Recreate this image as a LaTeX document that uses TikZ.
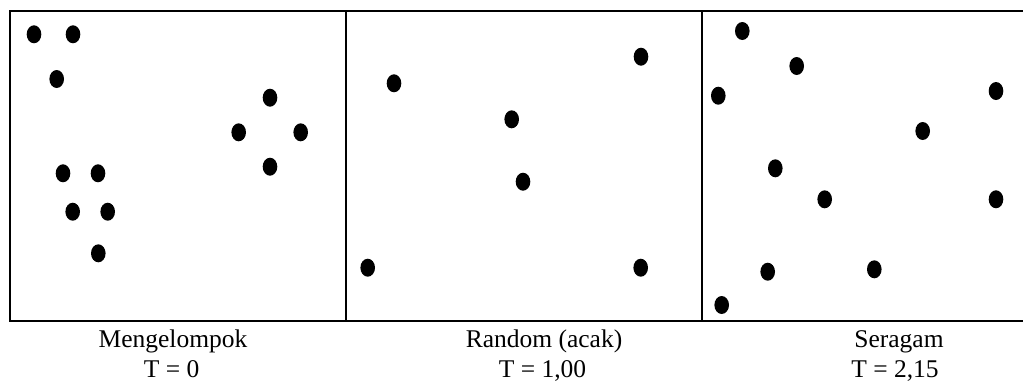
\documentclass[tikz,border=0pt]{standalone}
\usepackage{fontspec}
\setmainfont{Liberation Serif}

\begin{document}
\begin{tikzpicture}[
    x=1pt, y=-1pt,
    frame/.style={line width=1.8pt, black},
    dot/.style={fill=black},
    lbl/.style={anchor=base, inner sep=0pt, font=\fontsize{25.5}{30}\selectfont}
]
\useasboundingbox (0,0) rectangle (1023,381);

% frame and dividers
\draw[frame] (1023,11) -- (10,11) -- (10,321) -- (1023,321);
\draw[frame] (345.7,11) -- (345.7,321);
\draw[frame] (701.7,11) -- (701.7,321);

% mengelompok
\foreach \px/\py in {34/34.3, 73/34.3, 56.7/79, 270/97.7, 238.7/132.3, 300.7/132.3,
                     270/166.7, 63/173.3, 98/173.3, 72.7/211.7, 107.7/211.7, 98.3/253.3}
  \fill[dot] (\px,\py) ellipse [x radius=7.3, y radius=9];

% random
\foreach \px/\py in {641/56.7, 394/83.3, 511.7/119.3, 523/181.7, 367.7/267.7, 640.7/267.7}
  \fill[dot] (\px,\py) ellipse [x radius=7.3, y radius=9];

% seragam
\foreach \px/\py in {742.3/31, 796.7/66, 718.3/95.7, 996/91, 922.7/131, 775.3/168.3,
                     824.7/199.3, 996/199.3, 767.7/271.7, 874.3/269.3, 721.7/305}
  \fill[dot] (\px,\py) ellipse [x radius=7.3, y radius=9];

\node[lbl] (n1) at (173,347) {Mengelompok};
\node[lbl] (t1) at (171.7,377) {T = 0};
\node[lbl] (n2) at (544,347) {Random (acak)};
\node[lbl] (t2) at (542.5,377) {T = 1,00};
\node[lbl] (n3) at (899,347) {Seragam};
\node[lbl] (t3) at (895,377) {T = 2,15};
\end{tikzpicture}
\end{document}
